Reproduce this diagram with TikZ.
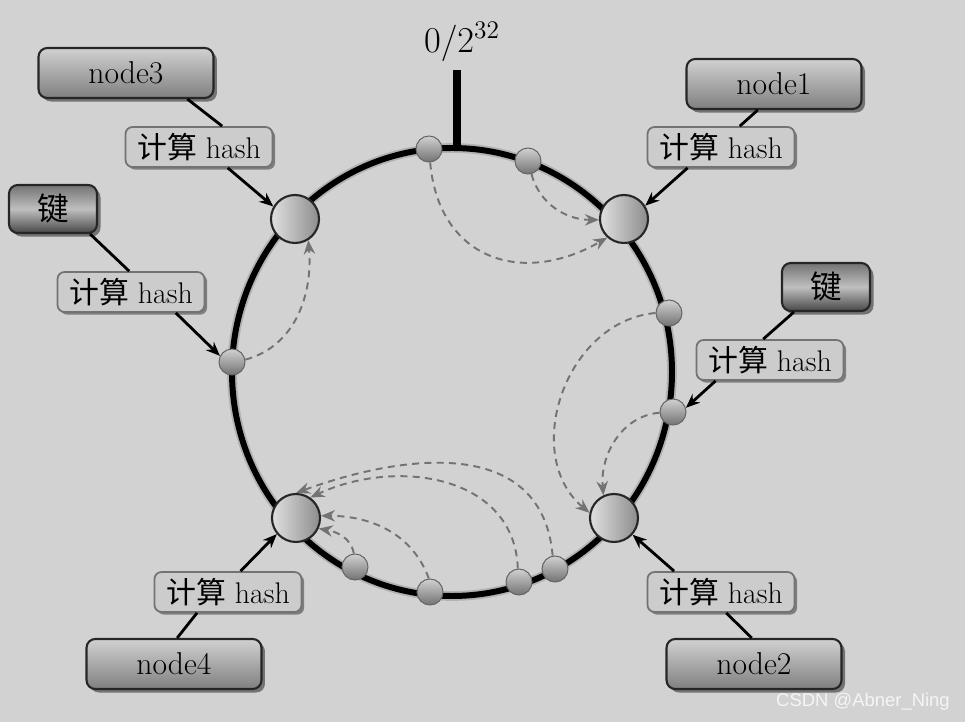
\documentclass[tikz,border=0pt]{standalone}
\usepackage{fontspec}
\newfontfamily\cjkfont{Noto Sans CJK SC}
\newfontfamily\markfont{Liberation Sans}
\usetikzlibrary{arrows.meta,shadows}
\definecolor{bggray}{HTML}{D2D2D2}
\newcommand\boxfont{\fontsize{18}{21}\selectfont}
\newcommand\hashfont{\fontsize{17}{20}\selectfont}
\newcommand\hashtext{{\cjkfont 计算} hash}
\begin{document}
\begin{tikzpicture}[x=0.02cm, y=0.02cm,
  bigslot/.style={circle,draw=black!85,line width=1.2pt,minimum size=0.96cm,inner sep=0pt,left color=black!12,right color=black!45},
  slot/.style={circle,draw=black!60,line width=0.6pt,minimum size=0.52cm,inner sep=0pt,top color=black!18,bottom color=black!55},
  serverbox/.style={rounded corners=5pt,draw=black!85,line width=1.2pt,minimum width=3.5cm,minimum height=1cm,top color=black!18,bottom color=black!50,font=\boxfont,drop shadow={shadow xshift=2pt,shadow yshift=-2pt,fill=black,opacity=0.45}},
  keybox/.style={rounded corners=5pt,draw=black!85,line width=1.2pt,minimum width=1.76cm,minimum height=0.96cm,top color=black!55,bottom color=black!72,middle color=black!25,font=\cjkfont\boxfont,drop shadow={shadow xshift=2pt,shadow yshift=-2pt,fill=black,opacity=0.45}},
  hashbox/.style={rounded corners=4pt,draw=black!55,line width=1pt,fill=black!20,minimum width=2.94cm,minimum height=0.8cm,inner sep=1pt,font=\hashfont,drop shadow={shadow xshift=1.5pt,shadow yshift=-1.5pt,fill=black,opacity=0.4}},
  feed/.style={line width=1.6pt,black},
  feedarrow/.style={feed,-{Stealth[length=8pt,width=6.5pt]}},
  moveto/.style={black!55,line width=1.1pt,dash pattern=on 4pt off 3pt,-{Stealth[length=8pt,width=6.5pt]}}]
\useasboundingbox (0,0) rectangle (965,-722);
\fill[bggray] (0,0) rectangle (965,-722);
\draw[line width=5.5pt,black!30] (452,-372) ellipse [x radius=220, y radius=224];
\draw[line width=3.4pt,black] (452,-372) ellipse [x radius=220, y radius=224];
\coordinate (zero) at (457,-148);
\draw[line width=4pt,black] (zero) -- ++(0,78);
\node (zerolabel) at (462,-42) {\fontsize{20}{24}\selectfont$0/2^{32}$};
\node[bigslot] (c1) at (624,-219) {};
\node[bigslot] (c2) at (614,-518) {};
\node[bigslot] (c3) at (295,-219) {};
\node[bigslot] (c4) at (296,-518) {};
\node[slot] (top1) at (429,-149) {};
\node[slot] (top2) at (528,-161) {};
\node[slot] (right1) at (669,-313) {};
\node[slot] (right2) at (673,-412) {};
\node[slot] (left1) at (232,-362) {};
\node[slot] (bot1) at (355,-567) {};
\node[slot] (bot2) at (430,-592) {};
\node[slot] (bot3) at (519,-582) {};
\node[slot] (bot4) at (555,-569) {};
\draw[moveto] (top1.-85) to[out=-85,in=210,looseness=1.3] (c1.228);
\draw[moveto] (top2.-75) to[out=-75,in=180] (c1.182);
\draw[moveto] (right1.180) to[out=185,in=140,looseness=1.1] (c2.168);
\draw[moveto] (right2.183) to[out=185,in=95] (c2.115);
\draw[moveto] (left1.10) to[out=15,in=-85] (c3.-58);
\draw[moveto] (bot4.100) to[out=95,in=20,looseness=1.15] (c4.90);
\draw[moveto] (bot3.95) to[out=92,in=25,looseness=1.1] (c4.55);
\draw[moveto] (bot2.95) to[out=110,in=0] (c4.5);
\draw[moveto] (bot1.95) to[out=100,in=-10] (c4.-25);
\node[serverbox] (n3) at (126,-73) {node3};
\node[serverbox] (n1) at (774,-84) {node1};
\node[serverbox] (n4) at (174,-664) {node4};
\node[serverbox] (n2) at (754,-664) {node2};
\node[keybox] (kL) at (53,-209) {键};
\node[keybox] (kR) at (826,-287) {键};
\node[hashbox] (h3) at (199,-147) {\hashtext};
\node[hashbox] (hL) at (131,-292) {\hashtext};
\node[hashbox] (h1) at (721,-147) {\hashtext};
\node[hashbox] (hR) at (770,-360) {\hashtext};
\node[hashbox] (h4) at (228,-592) {\hashtext};
\node[hashbox] (h2) at (721,-592) {\hashtext};
\draw[feed] (n3.-23) -- (h3.42);
\draw[feedarrow] (h3.-36) -- (c3.150);
\draw[feed] (kL.-34) -- (hL.95);
\draw[feedarrow] (hL.-25) -- (left1.153);
\draw[feed] (n1.-122) -- (h1.48);
\draw[feedarrow] (h1.-148) -- (c1.32);
\draw[feed] (kR.-142) -- (hR.108);
\draw[feedarrow] (hR.-159) -- (right2.18);
\draw[feed] (n4.83) -- (h4.-146);
\draw[feedarrow] (h4.59) -- (c4.-140);
\draw[feed] (n2.95) -- (h2.-76);
\draw[feedarrow] (h2.156) -- (c2.-42);
\node[font=\markfont\fontsize{10.5}{12}\selectfont,text=white!92!gray] (mark) at (863,-702) {CSDN @Abner\_Ning};
\end{tikzpicture}
\end{document}
